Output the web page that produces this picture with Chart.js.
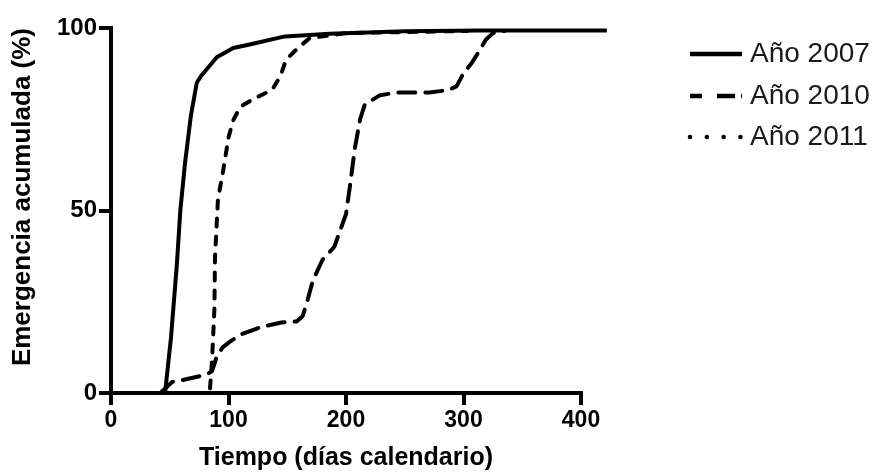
<!DOCTYPE html>
<html>
<head>
<meta charset="utf-8">
<script src="https://cdn.jsdelivr.net/npm/chart.js@4.4.1/dist/chart.umd.min.js"></script>
<style>
  html, body { margin: 0; padding: 0; background: #fff; }
  #wrap { width: 877px; height: 475px; }
</style>
</head>
<body>
<div id="wrap"><canvas id="grafico" width="877" height="475"></canvas></div>
<script>
// datos (dias calendario, % acumulado)
const series = ['Año 2007', 'Año 2010', 'Año 2011'];

const dias2007 = [46, 51, 56, 59, 63, 68, 73, 77, 90, 104, 118, 148, 186, 250, 314, 422];
const emerg2007 = [0, 15, 35, 50, 63, 76, 85, 87, 92, 94.5, 95.5, 97.7, 98.4, 99.1, 99.3, 99.3];

const dias2010 = [42, 52, 60, 81, 86, 88, 90, 95, 101, 110, 127, 145, 158, 163, 166, 172, 180, 190, 200, 203.5, 207.5, 212, 216, 229, 243, 271, 287, 294, 300, 307, 314, 319, 325, 335];
const emerg2010 = [0, 3, 3.5, 5, 6, 8, 10, 12.5, 14, 16, 18, 19.3, 19.6, 21, 24, 31, 36.5, 40, 49, 57, 67, 75, 79, 81.6, 82.3, 82.3, 83, 84, 87.6, 90.4, 94, 96.8, 98.6, 99.2];

const dias2011 = [42, 84, 86, 88, 88.5, 91, 95.5, 100, 104, 110, 122, 137, 144, 149, 159, 169, 200, 303];
const emerg2011 = [0, 0, 9, 23, 37, 53, 61, 70, 74.7, 78.4, 80.7, 83, 86.7, 91.3, 94.5, 97.2, 98.6, 99.2];

const ticksX = [0, 100, 200, 300, 400];
const ticksY = [0, 50, 100];

function puntos(xs, ys) {
  return xs.map((d, i) => ({ x: d, y: ys[i] }));
}

// guiones de las lineas en el grafico y en la leyenda (con extremos redondos)
const guiones = [[], [17, 10], [8, 10]];
const guionesLeyenda = [[], [12, 15, 18, 6], [0.1, 16.7]];

const leyenda = {
  id: 'leyenda',
  afterDraw(chart) {
    const ctx = chart.ctx;
    const filas = [54, 96, 137];
    ctx.save();
    chart.data.datasets.forEach((ds, i) => {
      const y = filas[i];
      ctx.beginPath();
      ctx.lineWidth = 4.5;
      ctx.strokeStyle = '#000';
      ctx.lineCap = i === 2 ? 'round' : 'butt';
      ctx.setLineDash(guionesLeyenda[i]);
      ctx.moveTo(690, y);
      ctx.lineTo(742, y);
      ctx.stroke();
      ctx.setLineDash([]);
      ctx.fillStyle = '#1a1a1a';
      ctx.font = "28px 'Liberation Sans', Arial, sans-serif";
      ctx.textBaseline = 'middle';
      ctx.textAlign = 'left';
      ctx.fillText(ds.label, 750, y);
    });
    ctx.restore();
  }
};

function rejilla() {
  return {
    display: true,
    drawOnChartArea: false,
    drawTicks: true,
    tickLength: 12,
    tickWidth: 4,
    tickColor: '#000',
    color: '#000',
    lineWidth: 4
  };
}

new Chart(document.getElementById('grafico'), {
  type: 'scatter',
  data: {
    datasets: [
      { label: series[0], data: puntos(dias2007, emerg2007), borderDash: guiones[0], borderCapStyle: 'butt' },
      { label: series[1], data: puntos(dias2010, emerg2010), borderDash: guiones[1], borderCapStyle: 'round' },
      { label: series[2], data: puntos(dias2011, emerg2011), borderDash: guiones[2], borderCapStyle: 'round' }
    ].map(ds => Object.assign(ds, {
      showLine: true,
      borderColor: '#000',
      backgroundColor: '#000',
      borderWidth: 4,
      borderJoinStyle: 'round',
      pointRadius: 0,
      tension: 0,
      fill: false,
      clip: false
    }))
  },
  options: {
    responsive: false,
    animation: false,
    layout: { padding: { left: 0, top: 28, right: 296, bottom: 0 } },
    plugins: {
      legend: { display: false },
      tooltip: { enabled: false }
    },
    scales: {
      x: {
        type: 'linear',
        min: 0,
        max: 400,
        border: { display: true, width: 4, color: '#000' },
        grid: rejilla(),
        afterFit: s => { s.height = 82; },
        afterBuildTicks: s => { s.ticks = ticksX.map(v => ({ value: v })); },
        ticks: {
          padding: 2,
          color: '#000',
          font: { family: "'Liberation Sans', Arial, sans-serif", size: 23, weight: 'bold' }
        },
        title: {
          display: true,
          text: 'Tiempo (días calendario)',
          color: '#000',
          padding: { top: 0, bottom: 2 },
          font: { family: "'Liberation Sans', Arial, sans-serif", size: 25, weight: 'bold' }
        }
      },
      y: {
        type: 'linear',
        min: 0,
        max: 100,
        border: { display: true, width: 4, color: '#000' },
        grid: rejilla(),
        afterFit: s => { s.width = 111; },
        afterBuildTicks: s => { s.ticks = ticksY.map(v => ({ value: v })); },
        ticks: {
          padding: 2,
          color: '#000',
          font: { family: "'Liberation Sans', Arial, sans-serif", size: 24, weight: 'bold' }
        },
        title: {
          display: true,
          text: 'Emergencia acumulada (%)',
          align: 'end',
          color: '#000',
          padding: { top: 7, bottom: 0 },
          font: { family: "'Liberation Sans', Arial, sans-serif", size: 26, weight: 'bold' }
        }
      }
    }
  },
  plugins: [leyenda]
});
</script>
</body>
</html>
